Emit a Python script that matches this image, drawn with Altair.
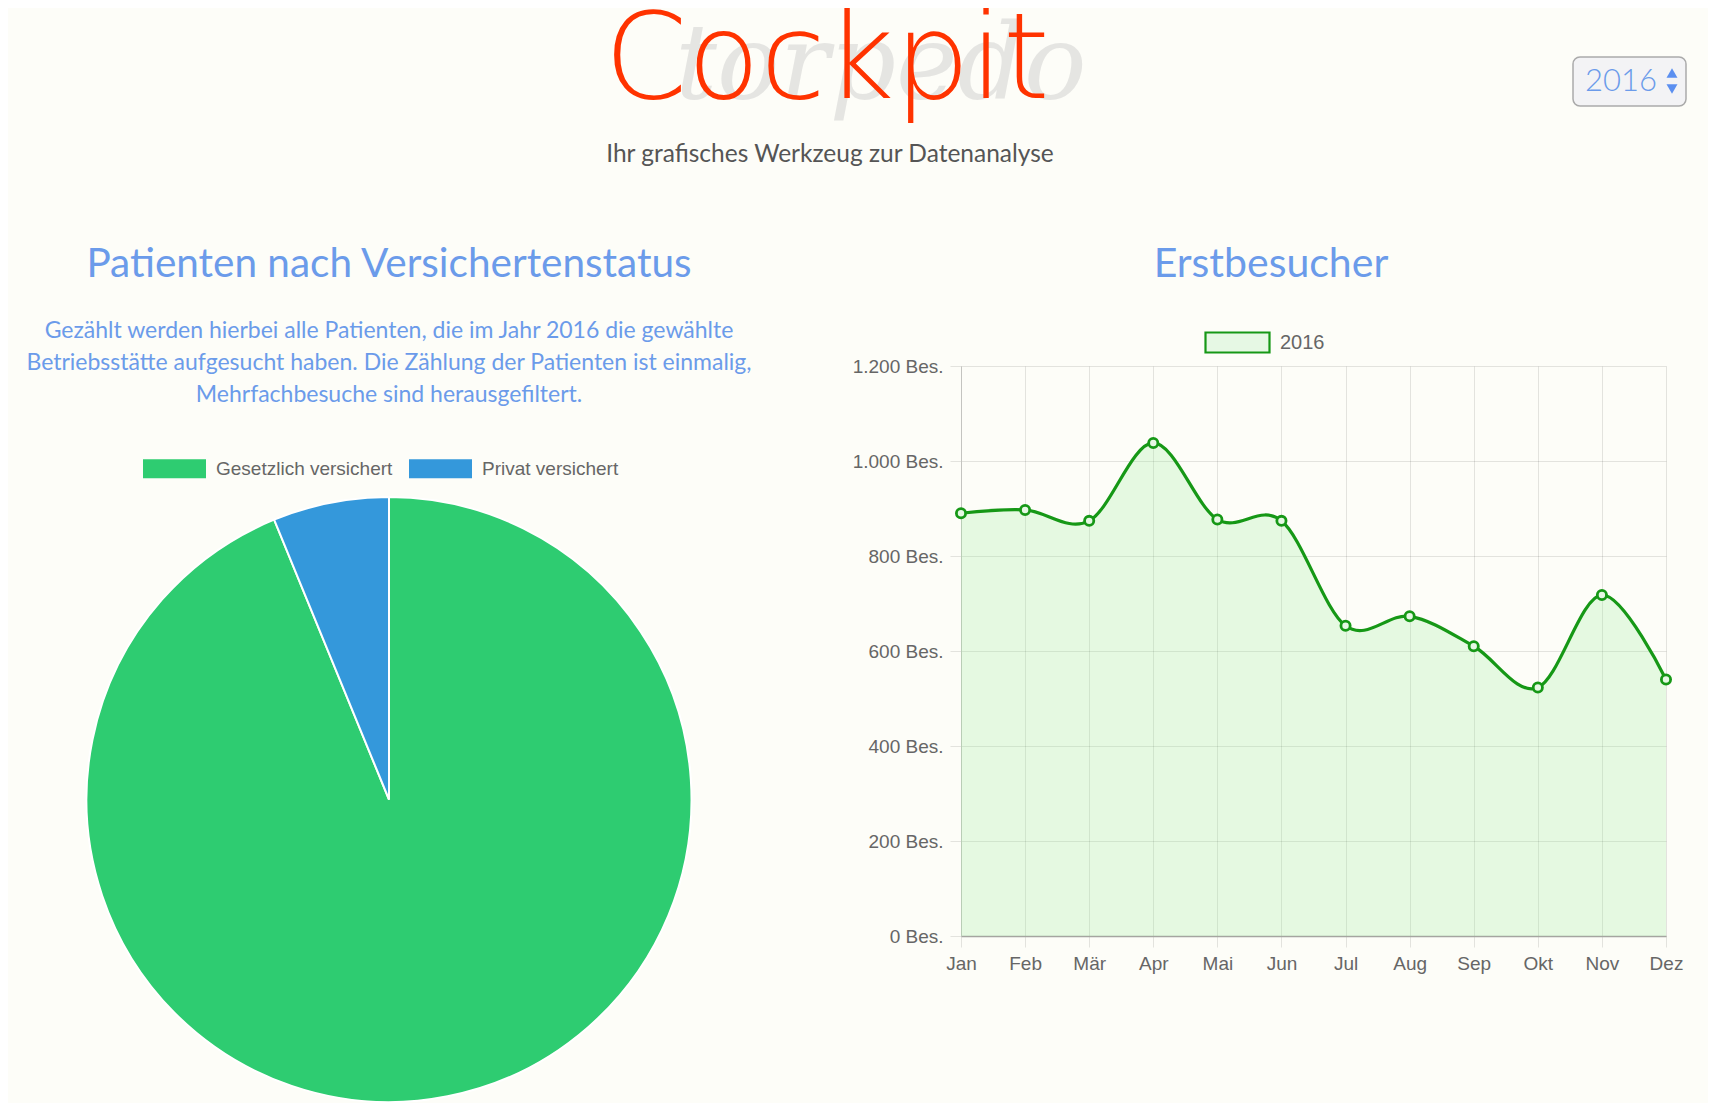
import altair as alt
import pandas as pd

# ---------------- data ----------------
months = ["Jan", "Feb", "Mär", "Apr", "Mai", "Jun", "Jul", "Aug", "Sep", "Okt", "Nov", "Dez"]
visitors = [890, 897, 874, 1038, 877, 874, 653, 673, 610, 523, 718, 540]
series_name = "2016"
status_labels = ["Gesetzlich versichert", "Privat versichert"]
status_counts = [1876, 124]
y_ticks = [0, 200, 400, 600, 800, 1000, 1200]

page_title = "Cockpit"
page_subtitle = "Ihr grafisches Werkzeug zur Datenanalyse"
logo_text = "torpedo"
year_label = "2016"
left_title = "Patienten nach Versichertenstatus"
left_desc = [
    "Gezählt werden hierbei alle Patienten, die im Jahr 2016 die gewählte",
    "Betriebsstätte aufgesucht haben. Die Zählung der Patienten ist einmalig,",
    "Mehrfachbesuche sind herausgefiltert.",
]
right_title = "Erstbesucher"

line_df = pd.DataFrame({"Monat": months, "Erstbesucher": visitors, "Jahr": [series_name] * len(months)})
pie_df = pd.DataFrame({"Status": status_labels, "Patienten": status_counts})

# ---------------- style ----------------
BG = "#fdfdf8"
TXT_BLUE = "#6b9bea"
GREEN = "#169816"
AREA_GREEN = "#90ee90"
PT_FILL = "#e6f8e4"
PIE_COLORS = ["#2ecc71", "#3498db"]
AXIS_FONT = "Liberation Sans"
HEAD_FONT = "Lato"

W, H = 705, 570
PAD = {"left": 953, "top": 358, "right": 42, "bottom": 167}


def one():
    return alt.Data(values=[{}])


def text_layer(txt, x, y, size, color, font=HEAD_FONT, weight=400, align="center",
               baseline="middle", italic=False, opacity=1.0):
    kw = dict(text=txt, font=font, fontSize=size, fontWeight=weight, color=color,
              align=align, baseline=baseline, opacity=opacity)
    if italic:
        kw["fontStyle"] = "italic"
    return alt.Chart(one()).mark_text(**kw).encode(x=alt.value(x), y=alt.value(y))


# ---------------- line chart ----------------
x_enc = alt.X("Monat:O", sort=months, scale=alt.Scale(type="point", padding=0),
              axis=alt.Axis(title=None, labelAngle=0))
y_enc = alt.Y("Erstbesucher:Q", scale=alt.Scale(domain=[0, 1200], nice=False),
              axis=alt.Axis(title=None, values=y_ticks,
                            labelExpr="replace(format(datum.value, ',d'), ',', '.') + ' Bes.'"))

area = alt.Chart(line_df).mark_area(interpolate="cardinal", color=AREA_GREEN, opacity=0.22).encode(
    x=x_enc, y=y_enc)
line = alt.Chart(line_df).mark_line(interpolate="cardinal", color=GREEN, strokeWidth=3.2).encode(
    x=x_enc, y=y_enc)

leg_line = alt.Legend(orient="none", legendX=243, legendY=-57, direction="horizontal", title=None,
                      symbolType="M-1,-0.3125L1,-0.3125L1,0.3125L-1,0.3125Z", symbolSize=4096,
                      symbolStrokeWidth=2.2, symbolOpacity=1, labelFont=AXIS_FONT, labelFontSize=20,
                      labelColor="#666666", labelOffset=9, padding=0)
points = alt.Chart(line_df).mark_point(filled=True, shape="circle", size=85, strokeWidth=2.8, opacity=1).encode(
    x=x_enc, y=y_enc,
    fill=alt.Fill("Jahr:N", scale=alt.Scale(domain=[series_name], range=[PT_FILL]), legend=leg_line),
    stroke=alt.Stroke("Jahr:N", scale=alt.Scale(domain=[series_name], range=[GREEN]), legend=leg_line),
)

# ---------------- pie ----------------
leg_pie = alt.Legend(orient="none", legendX=-818, legendY=71, direction="horizontal", title=None,
                     symbolType="M-1,-0.3L1,-0.3L1,0.3L-1,0.3Z", symbolSize=3969,
                     symbolStrokeWidth=0, symbolOpacity=1, labelFont=AXIS_FONT, labelFontSize=19,
                     labelColor="#666666", labelOffset=10, columnPadding=16, padding=0, labelLimit=400)
pie = alt.Chart(pie_df).mark_arc(stroke="white", strokeWidth=2).encode(
    theta=alt.Theta("Patienten:Q", stack=True),
    color=alt.Color("Status:N", scale=alt.Scale(domain=status_labels, range=PIE_COLORS), legend=leg_pie),
    order=alt.Order("Status:N"),
    x=alt.value(-572), y=alt.value(433.5), radius=alt.value(302.5),
)

# ---------------- header & texts ----------------
watermark = text_layer(logo_text, -80, -267, 104, "#c0c0c0", font="DejaVu Serif", italic=True,
                       baseline="alphabetic", opacity=0.38)
title = text_layer(page_title, -134, -268, 119, "#ff3300", font="DejaVu Sans", weight=200,
                   baseline="alphabetic")
subtitle = text_layer(page_subtitle, -131, -211, 24.5, "#555555")

year_box = alt.Chart(one()).mark_rect(fill="#f3f3f5", stroke="#aaaaaa", strokeWidth=1.5, cornerRadius=7).encode(
    x=alt.value(612), x2=alt.value(725), y=alt.value(-309), y2=alt.value(-260))
year_txt = text_layer(year_label, 660, -284, 31, TXT_BLUE, weight=300)
tri_up = alt.Chart(one()).mark_point(shape="triangle-up", filled=True, size=120, color="#5b8ff0", opacity=1).encode(
    x=alt.value(711), y=alt.value(-293))
tri_dn = alt.Chart(one()).mark_point(shape="triangle-down", filled=True, size=120, color="#5b8ff0", opacity=1).encode(
    x=alt.value(711), y=alt.value(-277))

lt = text_layer(left_title, -572, -101, 40.5, TXT_BLUE)
rt = text_layer(right_title, 310, -101, 41, TXT_BLUE)
desc = [text_layer(s, -572, yy, 23, TXT_BLUE) for s, yy in zip(left_desc, [-35, -3, 29])]

chart = alt.layer(
    watermark, title, subtitle, year_box, year_txt, tri_up, tri_dn, lt, rt, *desc,
    area, line, points, pie,
).properties(
    width=W, height=H, padding=PAD, autosize=alt.AutoSizeParams(type="none"), background=BG,
).configure_view(strokeWidth=0).configure_axis(
    grid=True, gridColor="#000000", gridOpacity=0.1, tickColor="#000000", tickOpacity=0.1,
    labelFont=AXIS_FONT, labelFontSize=19, labelColor="#666666", tickSize=11, labelPadding=7,
).configure_axisX(domainColor="#a5a5a0", domainWidth=1.5).configure_axisY(
    domainColor="#c4c4c0", domainWidth=1)

chart.save("out.html", embed_options={"renderer": "svg", "actions": False})
